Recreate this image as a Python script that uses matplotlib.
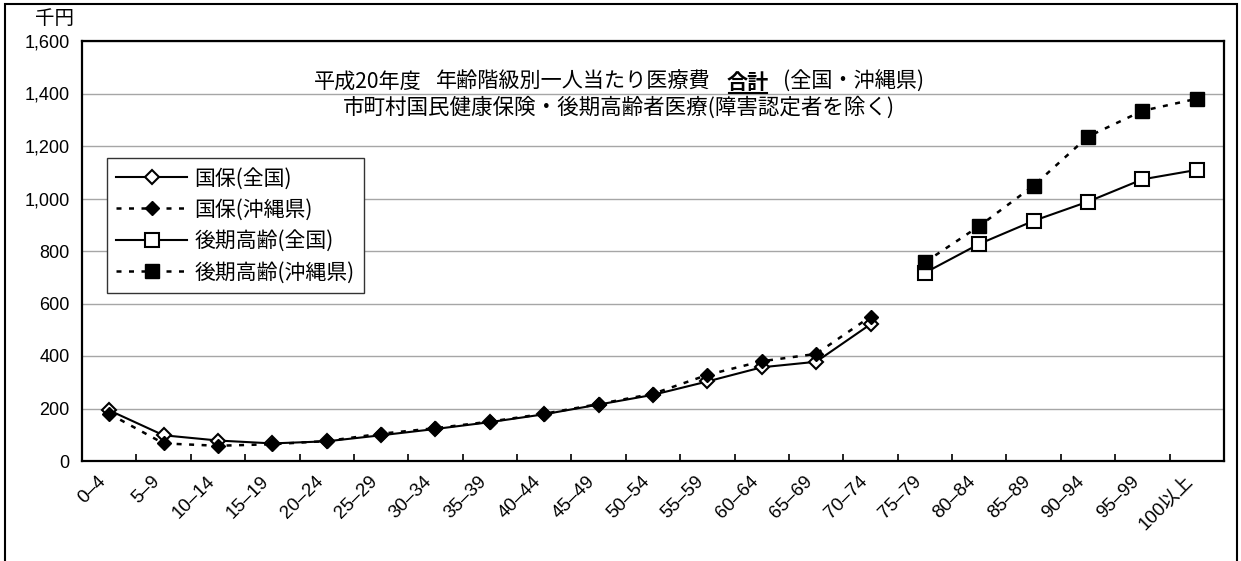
import numpy as np
import matplotlib.pyplot as plt
from matplotlib.lines import Line2D
from matplotlib.patches import Rectangle
from matplotlib.transforms import ScaledTranslation

JP = ['Noto Sans CJK JP', 'DejaVu Sans']
NUM = ['Liberation Sans', 'Noto Sans CJK JP', 'DejaVu Sans']
plt.rcParams['font.family'] = JP

# 年齢階級
ages = ['0–4', '5–9', '10–14', '15–19', '20–24', '25–29', '30–34', '35–39',
        '40–44', '45–49', '50–54', '55–59', '60–64', '65–69', '70–74',
        '75–79', '80–84', '85–89', '90–94', '95–99', '100以上']

# 一人当たり医療費(千円) 国保: 0-74歳
kokuho_zenkoku = [193, 98, 78, 67, 75, 98, 122, 148, 178, 215, 252, 303, 357, 378, 521]
kokuho_okinawa = [180, 67, 58, 64, 76, 104, 125, 150, 180, 217, 256, 328, 380, 408, 550]
# 後期高齢: 75歳以上
kouki_zenkoku = [717, 827, 915, 988, 1073, 1109]
kouki_okinawa = [757, 895, 1049, 1236, 1334, 1380]

y_ticks = [0, 200, 400, 600, 800, 1000, 1200, 1400, 1600]

W, H = 1241, 561
fig = plt.figure(figsize=(W / 100, H / 100), dpi=100)
ax = fig.add_axes([82 / W, 1 - 461 / H, 1142 / W, 420 / H])

x1 = np.arange(len(kokuho_zenkoku))
x2 = np.arange(len(kokuho_zenkoku), len(ages))
dot = (0, (2, 3))

ax.plot(x1, kokuho_zenkoku, color='black', lw=1.5, marker='D', ms=7,
        mfc='white', mec='black', mew=1.5, label='国保(全国)')
ax.plot(x1, kokuho_okinawa, color='black', lw=1.8, ls=dot, marker='D', ms=7.5,
        mfc='black', mec='black', label='国保(沖縄県)')
ax.plot(x2, kouki_zenkoku, color='black', lw=1.5, marker='s', ms=9.5,
        mfc='white', mec='black', mew=1.5, label='後期高齢(全国)')
ax.plot(x2, kouki_okinawa, color='black', lw=1.8, ls=dot, marker='s', ms=9.5,
        mfc='black', mec='black', label='後期高齢(沖縄県)')

# axes
ax.set_xlim(-0.5, len(ages) - 0.5)
ax.set_ylim(0, 1600)
ax.set_axisbelow(True)
ax.yaxis.grid(True, color='#a6a6a6', lw=1)
for s in ax.spines.values():
    s.set_linewidth(1.6)

ax.set_yticks(y_ticks)
ax.set_yticklabels([f'{v:,}' for v in y_ticks], fontfamily=NUM, fontsize=13)
ax.tick_params(axis='y', length=0, pad=9)

ax.set_xticks(x1.tolist() + x2.tolist())
ax.set_xticklabels(ages, rotation=45, ha='right', va='center',
                   rotation_mode='anchor', fontfamily=NUM, fontsize=13.5)
ax.tick_params(axis='x', which='major', length=0, pad=13)
ax.set_xticks(np.arange(0.5, len(ages) - 1), minor=True)
ax.tick_params(axis='x', which='minor', direction='in', length=5, width=1.2)
shift = ScaledTranslation(-6 / 100, 0, fig.dpi_scale_trans)
for lab in ax.get_xticklabels():
    lab.set_transform(lab.get_transform() + shift)

# legend
leg = ax.legend(loc='upper left', bbox_to_anchor=(107 / W, 1 - 158 / H),
                bbox_transform=fig.transFigure, fancybox=False, framealpha=1,
                edgecolor='#333333', fontsize=15, handlelength=3.4,
                handletextpad=0.35, borderaxespad=0, borderpad=0.45,
                labelspacing=0.45)
leg.get_frame().set_linewidth(1)

fig.text(55 / W, 1 - 18 / H, '千円', ha='center', va='center', fontsize=14)

# title (two lines, 合計 in bold with underline)
fig.canvas.draw()
r = fig.canvas.get_renderer()
cx = 619
pieces = [('平成20年度', 'normal', 14), ('年齢階級別一人当たり医療費', 'normal', 16),
          ('合計', 'bold', 14), ('(全国・沖縄県)', 'normal', 0)]
texts = []
for s, wgt, gap in pieces:
    t = fig.text(0, 1 - 82 / H, s, fontsize=15.2, fontweight=wgt,
                 ha='left', va='center')
    texts.append((t, t.get_window_extent(r).width, gap))
total = sum(w + g for _, w, g in texts)
x = cx - total / 2
for t, w, g in texts:
    t.set_x(x / W)
    if t.get_text() == '合計':
        fig.add_artist(Line2D([(x + 2) / W, (x + w - 2) / W], [1 - 93 / H] * 2,
                              transform=fig.transFigure, color='black', lw=1.5))
    x += w + g
fig.text(cx / W, 1 - 108 / H, '市町村国民健康保険・後期高齢者医療(障害認定者を除く)',
         fontsize=15.5, ha='center', va='center')

# outer frame
fig.add_artist(Rectangle((5 / W, -0.05), 1232 / W, 1.05 - 4 / H,
                         transform=fig.transFigure, fill=False,
                         edgecolor='black', lw=1.5))

fig.savefig('out.png', dpi=100)
